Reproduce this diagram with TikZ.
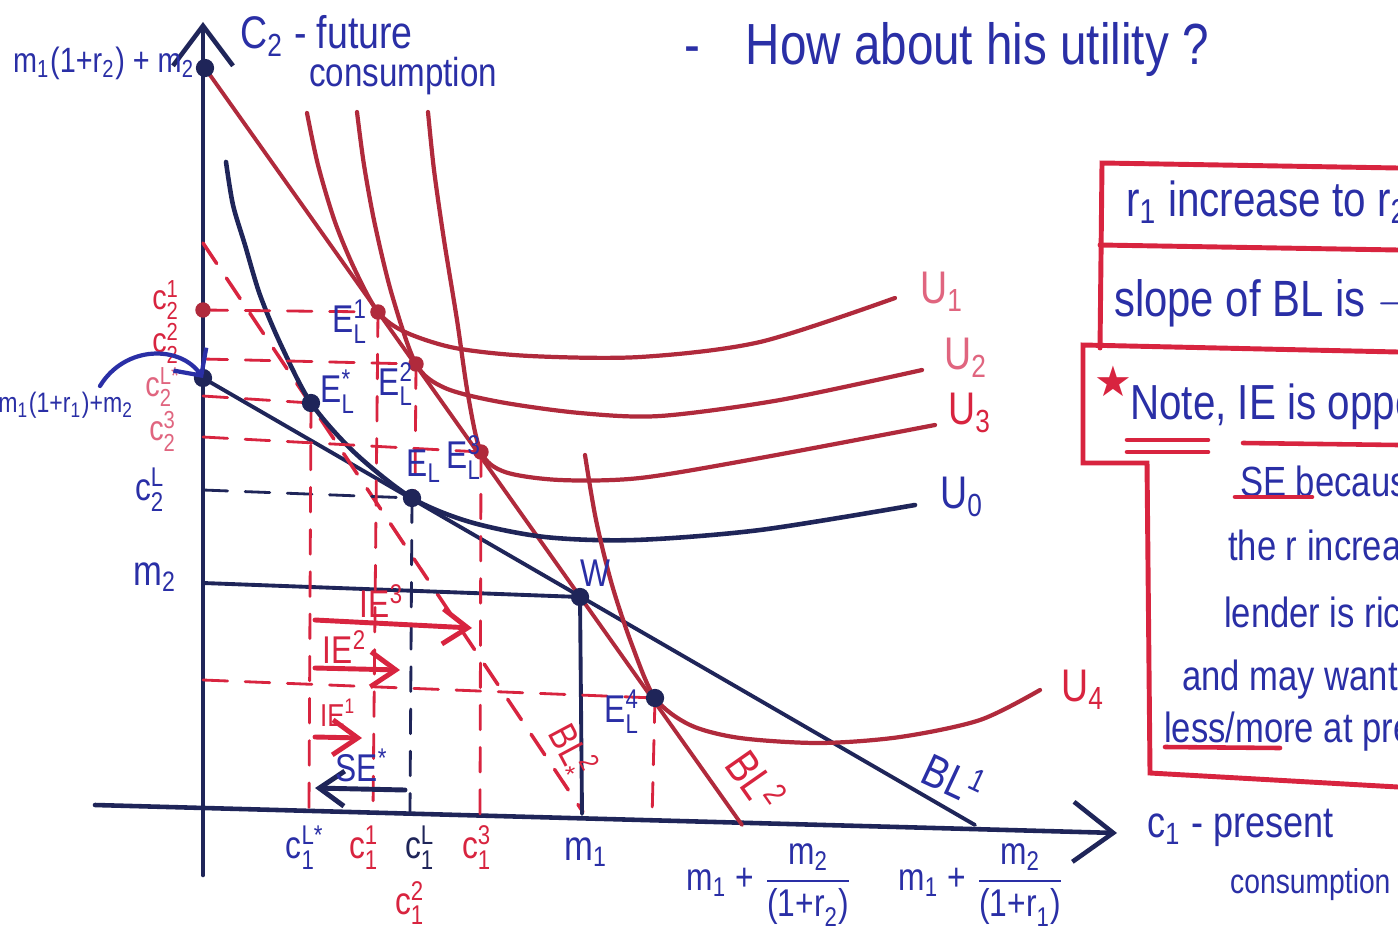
\documentclass[tikz,border=0pt]{standalone}
\usepackage{amsmath}
\usepackage{fontspec}
\setmainfont{Liberation Sans}[FakeStretch=0.82]
\newfontfamily\starfont{DejaVu Sans}
\usetikzlibrary{
  arrows.meta,
  calc
}
\usepackage{xcolor}
\definecolor{inkBlue}{HTML}{2A2FA6}
\definecolor{inkNavy}{HTML}{1F2559}
\definecolor{inkRed}{HTML}{D8243F}
\definecolor{curveRed}{HTML}{B02A3C}
\definecolor{inkPink}{HTML}{E0657F}
% base letter with sub- and superscript
\newcommand{\sbp}[3]{#1$_{\text{#2}}^{\text{#3}}$}
\tikzset{
  % Hand-written labels
  bluetext/.style={
    text=inkBlue,
    font=\fontsize{11}{13}\selectfont,
    inner sep=0.5pt
  },
  redtext/.style={
    text=inkRed,
    font=\fontsize{11}{13}\selectfont,
    inner sep=0.5pt
  },
  boxtext/.style={
    text=inkBlue,
    font=\fontsize{12}{14}\selectfont,
    anchor=west,
    inner sep=1pt
  },
  % Axes
  axisline/.style={
    draw=inkNavy,
    line width=1.3pt,
    -{Straight Barb[length=4mm, width=6mm]}
  },
  % Budget lines
  budgetline/.style={
    draw=inkNavy,
    line width=1.1pt
  },
  redbudget/.style={
    draw=curveRed,
    line width=1.1pt
  },
  % Indifference curves
  navycurve/.style={
    draw=inkNavy,
    line width=1.3pt
  },
  redcurve/.style={
    draw=curveRed,
    line width=1.2pt
  },
  % Guide lines
  redguide/.style={
    draw=inkRed,
    line width=0.8pt,
    dash pattern=on 7pt off 5pt
  },
  blueguide/.style={
    draw=inkNavy,
    line width=0.8pt,
    dash pattern=on 7pt off 5pt
  },
  % Effect arrows
  iearrow/.style={
    draw=inkRed,
    line width=1.4pt,
    -{Straight Barb[length=2.5mm, width=3.5mm]}
  },
  searrow/.style={
    draw=inkNavy,
    line width=1.4pt,
    -{Straight Barb[length=2.5mm, width=3.5mm]}
  },
  % Note boxes
  boxline/.style={
    draw=inkRed,
    line width=1.4pt
  }
}

\begin{document}
\begin{tikzpicture}[x=0.01cm, y=-0.01cm, line cap=round]

\useasboundingbox (0,0) rectangle (1398,943);
\fill[white] (0,0) rectangle (1398,943);

%% === Key points ===
\coordinate (O2) at (205,68);
\coordinate (O1) at (203,378);
\coordinate (Os) at (203,243);
\coordinate (W) at (580,597);
\coordinate (ELs) at (311,403);
\coordinate (EL) at (412,498);
\coordinate (EL1) at (378,312);
\coordinate (EL2) at (416,364);
\coordinate (EL3) at (481,452);
\coordinate (EL4) at (655,698);
\coordinate (B1) at (975,825);
\coordinate (B2) at (742,825);
\coordinate (Bs) at (583,812);
\coordinate (M1) at (582,814);
\coordinate (M2) at (203,583);

% points on the c2 axis
\coordinate (c21) at (203,310);
\coordinate (c22) at (203,359);
\coordinate (c2s) at (203,396);
\coordinate (c23) at (203,437);
\coordinate (c2L) at (203,490);
\coordinate (c24) at (203,680);

% points on the c1 axis
\coordinate (c1s) at (309,809);
\coordinate (c11) at (373,811);
\coordinate (c1L) at (410,812);
\coordinate (c12) at (415,495);
\coordinate (c13) at (480,814);
\coordinate (c14) at (652,819);

%% === Axes ===
\coordinate (xs) at (95,805);
\coordinate (xe) at (1117,833);
\coordinate (ys) at (203,875);
\coordinate (ye) at (203,22);
\draw[axisline] (xs) -- (xe);
\draw[axisline] (ys) -- (ye);

%% === Budget lines ===
\draw[budgetline] (O1) -- (B1);
\draw[redbudget] (O2) -- (B2);
\draw[redguide, line width=1pt] (Os) -- (Bs);
\draw[budgetline] (M2) -- (W) -- (M1);

%% === Indifference curves ===
\draw[navycurve] plot[smooth] coordinates {(226,162) (233,205) (245,245) (260,295)
  (281,345) (ELs) (355,453) (EL) (470,522) (545,537) (635,540) (760,530) (915,505)};
\draw[redcurve] plot[smooth] coordinates {(307,113) (318,165) (335,222) (355,270)
  (EL1) (405,332) (455,348) (530,356) (640,357) (760,342) (895,298)};
\draw[redcurve] plot[smooth] coordinates {(357,112) (364,165) (375,225) (392,295)
  (EL2) (445,388) (500,402) (580,413) (660,416) (780,400) (922,370)};
\draw[redcurve] plot[smooth] coordinates {(428,112) (434,170) (444,240) (457,320)
  (468,395) (EL3) (505,472) (560,480) (640,478) (760,458) (935,425)};
\draw[redcurve] plot[smooth] coordinates {(585,455) (596,520) (612,585) (632,645)
  (EL4) (690,725) (740,738) (820,743) (900,737) (980,720) (1040,690)};

%% === Guide lines ===
\draw[redguide] (c21) -- (EL1);
\draw[redguide] (c22) -- (EL2);
\draw[redguide] (c2s) -- (ELs);
\draw[redguide] (c23) -- (EL3);
\draw[redguide] (c24) -- (EL4);
\draw[blueguide] (c2L) -- (EL);
\draw[redguide] (ELs) -- (c1s);
\draw[redguide] (EL1) -- (c11);
\draw[redguide] (EL2) -- (c12);
\draw[redguide] (EL3) -- (c13);
\draw[redguide] (EL4) -- (c14);
\draw[blueguide] (EL) -- (c1L);

% dots
\foreach \p in {O2,O1,ELs,EL,W,EL4}
  \fill[inkNavy] (\p) circle (2.6pt);
\foreach \p in {c21,EL1,EL2,EL3}
  \fill[curveRed] (\p) circle (2.2pt);

%% === Income and substitution effects ===
\coordinate (ie3a) at (315,620);
\coordinate (ie3b) at (472,628);
\coordinate (ie2a) at (315,668);
\coordinate (ie2b) at (400,670);
\coordinate (ie1a) at (315,737);
\coordinate (ie1b) at (362,738);
\coordinate (sea) at (405,790);
\coordinate (seb) at (315,788);
\draw[iearrow] (ie3a) -- (ie3b);
\draw[iearrow] (ie2a) -- (ie2b);
\draw[iearrow] (ie1a) -- (ie1b);
\draw[searrow] (sea) -- (seb);
\node[redtext] (ie3) at (382,601) {IE$^{\text{3}}$};
\node[redtext] (ie2) at (345,647) {IE$^{\text{2}}$};
\node[redtext, font=\fontsize{9}{11}\selectfont] (ie1) at (338,713) {IE$^{\text{1}}$};
\node[bluetext] (se) at (362,765) {SE$^{\text{*}}$};

%% === Point labels ===
\node[bluetext] (lEL1) at (350,322) {\sbp{E}{L}{1}};
\node[bluetext] (lELs) at (338,392) {\sbp{E}{L}{*}};
\node[bluetext] (lEL2) at (396,384) {\sbp{E}{L}{2}};
\node[bluetext] (lEL) at (424,466) {E$_{\text{L}}$};
\node[bluetext] (lEL3) at (464,458) {\sbp{E}{L}{3}};
\node[bluetext] (lW) at (595,573) {W};
\node[bluetext] (lEL4) at (622,712) {\sbp{E}{L}{4}};

%% === Curve labels ===
\node[redtext, text=inkPink, font=\fontsize{13}{15}\selectfont] (lU1) at (942,292) {U$_{\text{1}}$};
\node[redtext, text=inkPink, font=\fontsize{13}{15}\selectfont] (lU2) at (966,358) {U$_{\text{2}}$};
\node[redtext, font=\fontsize{13}{15}\selectfont] (lU3) at (970,413) {U$_{\text{3}}$};
\node[bluetext, font=\fontsize{13}{15}\selectfont] (lU0) at (962,497) {U$_{\text{0}}$};
\node[redtext, font=\fontsize{13}{15}\selectfont] (lU4) at (1083,690) {U$_{\text{4}}$};
\node[bluetext, rotate=-25, font=\fontsize{13}{15}\selectfont] (lBL1) at (955,778) {BL$^{\text{1}}$};
\node[redtext, rotate=-55, font=\fontsize{13}{15}\selectfont] (lBL2) at (757,780) {BL$^{\text{2}}$};
\node[redtext, rotate=-62] (lBLs) at (570,752) {\sbp{BL}{*}{2}};

%% === c2 axis labels ===
\node[bluetext, font=\fontsize{10}{12}\selectfont] (lO2) at (104,63) {m$_{\text{1}}$(1+r$_{\text{2}}$) + m$_{\text{2}}$};
\node[redtext, font=\fontsize{10}{12}\selectfont] (l21) at (166,300) {\sbp{c}{2}{1}};
\node[redtext, font=\fontsize{10}{12}\selectfont] (l22) at (166,343) {\sbp{c}{2}{2}};
\node[redtext, text=inkPink, font=\fontsize{10}{12}\selectfont] (l2s) at (163,387) {\sbp{c}{2}{L*}};
\node[redtext, text=inkPink, font=\fontsize{10}{12}\selectfont] (l23) at (163,431) {\sbp{c}{2}{3}};
\node[bluetext] (l2L) at (150,490) {\sbp{c}{2}{L}};
\node[bluetext, font=\fontsize{12}{14}\selectfont] (lm2) at (155,577) {m$_{\text{2}}$};
\node[bluetext, font=\fontsize{8}{10}\selectfont] (lO1) at (66,405) {m$_{\text{1}}$(1+r$_{\text{1}}$)+m$_{\text{2}}$};
\coordinate (arr) at (100,386);
\draw[inkBlue, line width=1.2pt, -{Straight Barb[length=2mm]}] (arr) .. controls (125,345) and (180,345) .. (O1);

%% === c1 axis labels ===
\node[bluetext] (l1s) at (305,848) {\sbp{c}{1}{L*}};
\node[redtext] (l11) at (364,848) {\sbp{c}{1}{1}};
\node[bluetext, text=inkNavy] (l1L) at (420,848) {\sbp{c}{1}{L}};
\node[redtext] (l13) at (477,848) {\sbp{c}{1}{3}};
\node[redtext] (l12) at (410,903) {\sbp{c}{1}{2}};
\node[bluetext, font=\fontsize{12}{14}\selectfont] (lm1) at (586,852) {m$_{\text{1}}$};
\node[bluetext] (lB2) at (770,885) {m$_{\text{1}}$ + $\dfrac{\text{m}_{\text{2}}}{\text{(1+r}_{\text{2}}\text{)}}$};
\node[bluetext] (lB1) at (982,885) {m$_{\text{1}}$ + $\dfrac{\text{m}_{\text{2}}}{\text{(1+r}_{\text{1}}\text{)}}$};

%% === Axis titles ===
\node[boxtext, font=\fontsize{13}{15}\selectfont] (ytitle) at (236,36) {C$_{\text{2}}$ - future};
\node[boxtext, font=\fontsize{11.5}{14}\selectfont] (ytitle2) at (305,76) {consumption};
\node[boxtext, font=\fontsize{12.5}{15}\selectfont] (xtitle) at (1143,828) {c$_{\text{1}}$ - present};
\node[boxtext, font=\fontsize{9.8}{12}\selectfont] (xtitle2) at (1226,885) {consumption};
\node[boxtext, font=\fontsize{16.5}{20}\selectfont] (question) at (680,50) {-\hspace{13pt}How about his utility ?};

%% === Note boxes ===
\draw[boxline] (1398,168) -- (1102,163) -- (1100,348);
\draw[boxline] (1100,245) -- (1398,250);
\draw[boxline] (1398,352) -- (1083,345) -- (1083,463) -- (1147,463)
  -- (1150,773) -- (1398,787);
\node[boxtext, font=\fontsize{14}{17}\selectfont] (rise) at (1122,202) {r$_{\text{1}}$ increase to r$_{\text{2}}$};
\node[boxtext, font=\fontsize{14.5}{17}\selectfont] (slope) at (1110,303) {slope of BL is $-$};
\node[text=inkRed, font=\starfont\fontsize{12}{14}\selectfont] (star) at (1113,381) {★};
\node[boxtext, font=\fontsize{14}{17}\selectfont] (note) at (1126,407) {Note, IE is opposite};
\node[boxtext] (n2) at (1236,481) {SE because};
\node[boxtext] (n3) at (1224,548) {the r increase,};
\node[boxtext] (n4) at (1220,612) {lender is richer};
\node[boxtext] (n5) at (1178,680) {and may want to};
\node[boxtext] (n6) at (1160,732) {less/more at present};
\draw[inkRed, line width=1.3pt] (1127,440) -- (1208,440);
\draw[inkRed, line width=1.3pt] (1127,452) -- (1208,452);
\draw[inkRed, line width=1.3pt] (1243,443) -- (1398,445);
\draw[inkRed, line width=1.3pt] (1235,497) -- (1312,497);
\draw[inkRed, line width=1.3pt] (1165,747) -- (1280,748);

\end{tikzpicture}
\end{document}
